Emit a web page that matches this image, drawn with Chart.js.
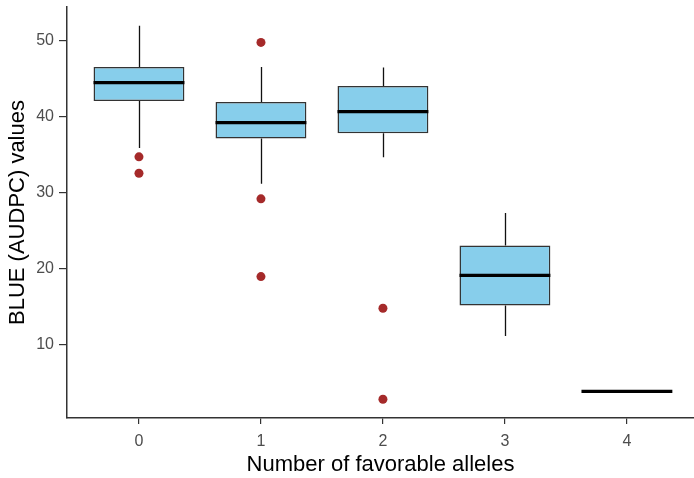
<!DOCTYPE html>
<html>
<head>
<meta charset="utf-8">
<script src="https://cdn.jsdelivr.net/npm/chart.js@4/dist/chart.umd.min.js"></script>
<style>
  html, body { margin: 0; padding: 0; background: #fff; }
  #wrap { width: 694px; height: 478px; }
</style>
</head>
<body>
<div id="wrap"><canvas id="chart" width="694" height="478"></canvas></div>
<script>
// number of favorable alleles
const alleles = [0, 1, 2, 3, 4];
// box stats
const whiskerLow = [35.8, 31.1, 34.6, 11.1, 3.8];
const q1 = [42.0, 37.05, 37.75, 15.1, 3.8];
const median = [44.4, 39.15, 40.6, 19.07, 3.8];
const q3 = [46.46, 41.86, 43.96, 23.0, 3.8];
const whiskerHigh = [51.9, 46.46, 46.4, 27.26, 3.8];
// outliers: [allele, value]
const outlierX = [0, 0, 1, 1, 1, 2, 2];
const outlierY = [34.65, 32.5, 49.7, 29.13, 18.9, 14.74, 2.76];
const yTicks = [10, 20, 30, 40, 50];

const boxFill = "#87CEEB";
const boxLine = "#333333";

// whiskers go under the boxes, medians on top
const boxPlotPlugin = {
  id: "boxExtras",
  beforeDatasetsDraw(chart) {
    const { ctx, scales: { x, y } } = chart;
    ctx.save();
    ctx.strokeStyle = "#111";
    ctx.lineWidth = 1.3;
    alleles.forEach((a, i) => {
      const px = Math.round(x.getPixelForValue(a)) + 0.5;
      ctx.beginPath();
      ctx.moveTo(px, y.getPixelForValue(whiskerHigh[i]));
      ctx.lineTo(px, y.getPixelForValue(q3[i]));
      ctx.moveTo(px, y.getPixelForValue(q1[i]));
      ctx.lineTo(px, y.getPixelForValue(whiskerLow[i]));
      ctx.stroke();
    });
    ctx.restore();
  },
  afterDatasetsDraw(chart) {
    const { ctx, scales: { x, y } } = chart;
    const meta = chart.getDatasetMeta(0);
    ctx.save();
    ctx.strokeStyle = "#000";
    ctx.lineWidth = 3.2;
    alleles.forEach((a, i) => {
      const bar = meta.data[i];
      const half = bar.width / 2;
      const py = y.getPixelForValue(median[i]);
      ctx.beginPath();
      ctx.moveTo(bar.x - half, py);
      ctx.lineTo(bar.x + half, py);
      ctx.stroke();
    });
    ctx.restore();
  }
};

const tickFont = { family: "'Liberation Sans', Arial, sans-serif", size: 16 };
const titleFont = { family: "'Liberation Sans', Arial, sans-serif", size: 22 };

new Chart(document.getElementById("chart"), {
  data: {
    datasets: [
      {
        type: "bar",
        data: alleles.map((a, i) => ({ x: a, y: [q1[i], q3[i]] })),
        backgroundColor: boxFill,
        borderColor: alleles.map((a, i) => q1[i] === q3[i] ? "rgba(0,0,0,0)" : boxLine),
        borderWidth: 1.5,
        borderSkipped: false,
        barPercentage: 0.745,
        categoryPercentage: 1,
        order: 2
      },
      {
        type: "scatter",
        data: outlierX.map((a, i) => ({ x: a, y: outlierY[i] })),
        backgroundColor: "#A52A2A",
        borderColor: "#A52A2A",
        pointRadius: 4.5,
        borderWidth: 0,
        order: 1
      }
    ]
  },
  options: {
    responsive: false,
    animation: false,
    layout: { autoPadding: false, padding: { left: 5, right: 0, top: 7, bottom: 0 } },
    plugins: { legend: { display: false }, tooltip: { enabled: false } },
    scales: {
      x: {
        type: "linear",
        offset: false,
        min: -0.59,
        max: 4.55,
        afterBuildTicks: (s) => { s.ticks = alleles.map(v => ({ value: v })); },
        afterFit: (s) => { s.paddingLeft = 0; s.paddingRight = 0; s.height = 60; },
        ticks: { font: tickFont, color: "#4d4d4d", padding: 8 },
        grid: { offset: false, drawOnChartArea: false, tickLength: 6, color: "#333", lineWidth: 1.2 },
        border: { color: "#333", width: 1.5 },
        title: { display: true, text: "Number of favorable alleles", font: titleFont, color: "#000", padding: { top: 0, bottom: 0 } }
      },
      y: {
        min: 0.3,
        max: 54.36,
        afterBuildTicks: (s) => { s.ticks = yTicks.map(v => ({ value: v })); },
        afterFit: (s) => { s.paddingTop = 0; s.paddingBottom = 0; s.width = 62; },
        ticks: { font: tickFont, color: "#4d4d4d", padding: 5 },
        grid: { drawOnChartArea: false, tickLength: 8, color: "#333", lineWidth: 1.2 },
        border: { color: "#333", width: 1.5 },
        title: { display: true, text: "BLUE (AUDPC) values", font: titleFont, color: "#000", padding: { top: 0, bottom: 4 } }
      }
    }
  },
  plugins: [boxPlotPlugin]
});
</script>
</body>
</html>
